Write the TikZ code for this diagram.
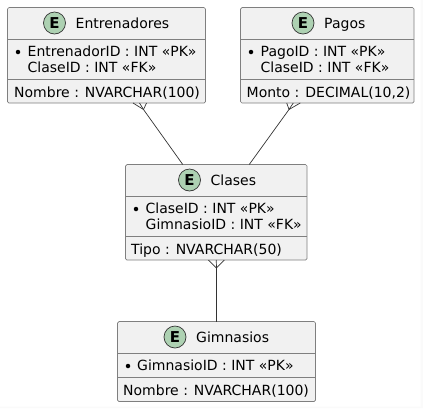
\documentclass[tikz,border=0pt]{standalone}
\usepackage{fontspec}
\setmainfont{DejaVu Sans}
\usetikzlibrary{calc}
\definecolor{boxfill}{HTML}{F1F1F1}
\definecolor{boxline}{HTML}{7F7F7F}
\definecolor{circfill}{HTML}{ADD1B2}
\definecolor{edge}{HTML}{333333}
\definecolor{margin}{HTML}{FAFAFA}
\tikzset{
  x=1pt,y=-1pt,
  entity/.style={draw=boxline,fill=boxfill,line width=0.7pt,rounded corners=1.5pt,inner sep=0pt,outer sep=0pt,minimum width=#1},
  sep/.style={draw=boxline,line width=0.7pt},
  letter/.style={circle,draw=black!80,fill=circfill,line width=0.7pt,minimum size=22pt,inner sep=0pt,font=\fontsize{15}{15}\selectfont\bfseries},
  title/.style={anchor=base west,inner sep=0pt,font=\fontsize{14}{14}\selectfont,text=black},
  attr/.style={anchor=base west,inner sep=0pt,font=\fontsize{14}{14}\selectfont,text=black},
  bullet/.style={circle,fill=black,minimum size=4.5pt,inner sep=0pt},
  rel/.style={draw=edge,line width=0.7pt},
}
\begin{document}
\begin{tikzpicture}
\useasboundingbox (0,0) rectangle (423,408);
\fill[margin] (420.5,0) rectangle (423,408) (0,406.5) rectangle (423,408);
% Entrenadores
\node[entity=198pt,minimum height=95.5pt] (ent) at (106.5,55.25) {};
\draw[sep] (7.5,39) -- (205.5,39) (7.5,79.5) -- (205.5,79.5);
\node[letter] (ente) at (54.5,23) {E};
\node[title] (entt) at (75.5,28) {Entrenadores};
\node[bullet] (entb) at (18,52) {};
\node[attr] (enta) at (27.5,56) {EntrenadorID : INT «PK»};
\node[attr] (entc) at (27.5,72) {ClaseID : INT «FK»};
\node[attr] (entn) at (14,97) {Nombre : NVARCHAR(100)};
% Pagos
\node[entity=173.5pt,minimum height=95.5pt] (pag) at (327.25,55.25) {};
\draw[sep] (240.5,39) -- (414,39) (240.5,79.5) -- (414,79.5);
\node[letter] (page) at (303,23) {E};
\node[title] (pagt) at (324,28) {Pagos};
\node[bullet] (pagb) at (251,52) {};
\node[attr] (paga) at (260.5,56) {PagoID : INT «PK»};
\node[attr] (pagc) at (260.5,72) {ClaseID : INT «FK»};
\node[attr] (pagn) at (246.5,97) {Monto : DECIMAL(10,2)};
% Clases
\node[entity=181.5pt,minimum height=95.5pt] (cla) at (216.25,212.25) {};
\draw[sep] (125.5,196.5) -- (307,196.5) (125.5,236.5) -- (307,236.5);
\node[letter] (clae) at (189.5,180) {E};
\node[title] (clat) at (210.5,185) {Clases};
\node[bullet] (clab) at (136,209) {};
\node[attr] (claa) at (145.5,213) {ClaseID : INT «PK»};
\node[attr] (clac) at (145.5,229) {GimnasioID : INT «FK»};
\node[attr] (clan) at (131,254) {Tipo : NVARCHAR(50)};
% Gimnasios
\node[entity=198pt,minimum height=80pt] (gim) at (216.5,361.5) {};
\draw[sep] (117.5,353.5) -- (315.5,353.5) (117.5,377.5) -- (315.5,377.5);
\node[letter] (gime) at (175,337) {E};
\node[title] (gimt) at (196,342) {Gimnasios};
\node[bullet] (gimb) at (128,366) {};
\node[attr] (gima) at (137,370) {GimnasioID : INT «PK»};
\node[attr] (gimn) at (123,395) {Nombre : NVARCHAR(100)};
% Connectors
\coordinate (ek) at (143.5,109.5);
\coordinate (pk) at (289,109.5);
\coordinate (ck) at (216.5,268);
\draw[rel] ([xshift=-33.5pt]cla.north) -- (ek);
\draw[rel] (ek) -- ([xshift=26.5pt]ent.south);
\draw[rel] (ek) -- ([xshift=33pt]ent.south);
\draw[rel] (ek) -- ([xshift=40pt]ent.south);
\draw[rel] ([xshift=33pt]cla.north) -- (pk);
\draw[rel] (pk) -- ([xshift=-40.5pt]pag.south);
\draw[rel] (pk) -- ([xshift=-34pt]pag.south);
\draw[rel] (pk) -- ([xshift=-27pt]pag.south);
\draw[rel] (gim.north) -- (ck);
\draw[rel] (ck) -- ([xshift=-8pt]cla.south);
\draw[rel] (ck) -- (cla.south);
\draw[rel] (ck) -- ([xshift=8pt]cla.south);
\end{tikzpicture}
\end{document}
